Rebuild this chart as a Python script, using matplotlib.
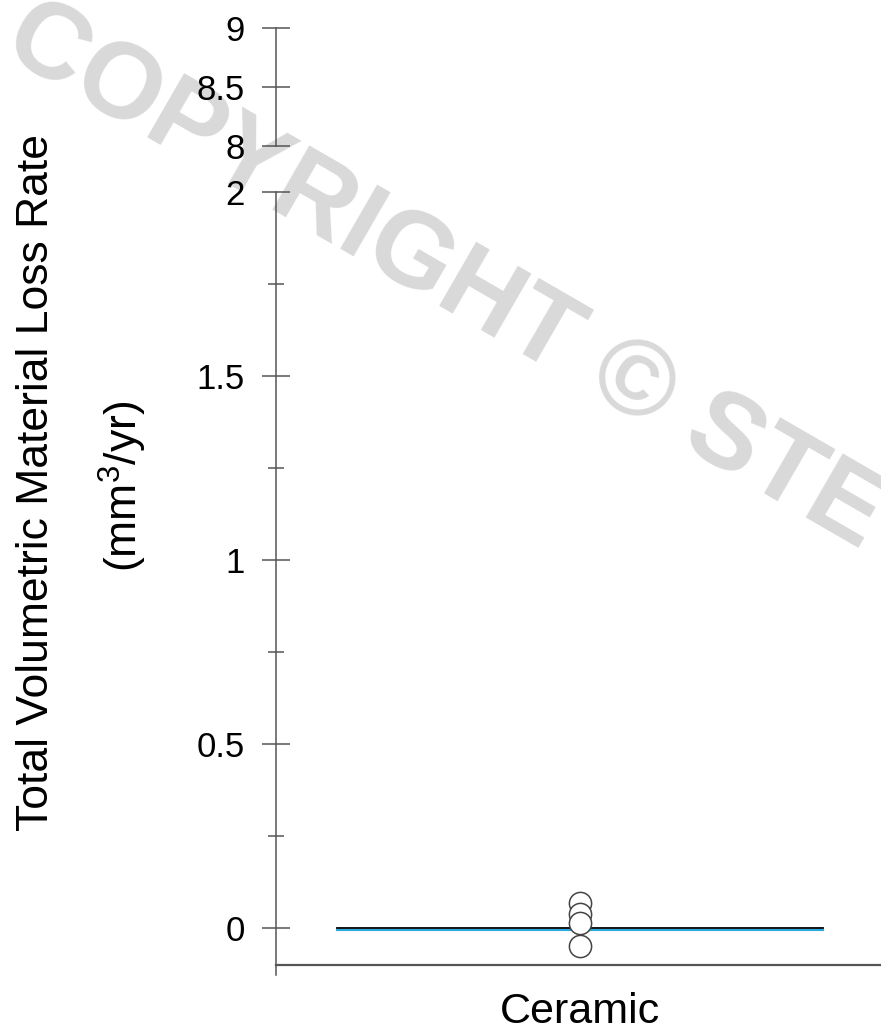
import matplotlib
matplotlib.use("Agg")
import matplotlib.pyplot as plt
import matplotlib.transforms as mtransforms

plt.rcParams['font.family'] = ['Liberation Sans', 'DejaVu Sans']
plt.rcParams['mathtext.fontset'] = 'custom'
plt.rcParams['mathtext.rm'] = 'Liberation Sans'
plt.rcParams['mathtext.default'] = 'regular'

# data
categories = ["Ceramic"]
loss_rates = [0.068, 0.038, 0.014, -0.050]   # mm^3/yr, individual specimens
mean_rate = 0.0
median_rate = 0.0

lower_ticks = [0, 0.5, 1, 1.5, 2]
lower_ticklabels = ["0", "0.5", "1", "1.5", "2"]
lower_minor = [0.25, 0.75, 1.25, 1.75]
upper_ticks = [8, 8.5, 9]
upper_ticklabels = ["8", "8.5", "9"]

axis_grey = "#555555"

fig = plt.figure(figsize=(8.81, 10.30), dpi=100)

# broken y axis: small top panel for 8-9, main panel for 0-2
ax_top = fig.add_axes([0.3133, 0.8583, 0.6867, 0.1146])
ax = fig.add_axes([0.3133, 0.0534, 0.6867, 0.7602])

for a in (ax, ax_top):
    a.patch.set_facecolor('none')
    a.spines['top'].set_visible(False)
    a.spines['right'].set_visible(False)
    a.spines['left'].set_color(axis_grey)
    a.spines['left'].set_linewidth(1.1)
    a.set_xlim(-0.5, 0.495)
    a.tick_params(axis='y', which='major', direction='inout', length=20,
                  width=1.1, color=axis_grey, labelsize=25, pad=12.5)

ax_top.spines['bottom'].set_visible(False)
ax_top.set_ylim(8, 9)
ax_top.set_yticks(upper_ticks)
ax_top.set_yticklabels(upper_ticklabels)
ax_top.set_xticks([])

ax.set_ylim(-0.128, 2)
ax.set_yticks(lower_ticks)
ax.set_yticklabels(lower_ticklabels)
ax.set_yticks(lower_minor, minor=True)
ax.tick_params(axis='y', which='minor', direction='inout', length=11,
               width=1.1, color=axis_grey)
ax.spines['bottom'].set_position(('data', -0.1))
ax.spines['bottom'].set_color(axis_grey)
ax.spines['bottom'].set_linewidth(1.6)

ax.set_xticks(range(len(categories)))
ax.set_xticklabels(categories)
ax.tick_params(axis='x', length=0, labelsize=31, pad=19.5)

# summary lines (median drawn a hair lower so both show)
shift_down = mtransforms.offset_copy(ax.transData, fig=fig, y=-2, units='dots')
ax.plot([-0.4, 0.4], [median_rate, median_rate], color='#29abe2', lw=1.5,
        transform=shift_down, zorder=2)
ax.plot([-0.4, 0.4], [mean_rate, mean_rate], color='black', lw=1.3, zorder=3)

ax.scatter([0] * len(loss_rates), loss_rates, s=16 ** 2, facecolor='white',
           edgecolor='#444444', linewidth=1.1, zorder=4)

fig.text(0.041, 1 - 483 / 1030, "Total Volumetric Material Loss Rate",
         rotation=90, ha='center', va='center', fontsize=32)
fig.text(0.140, 1 - 486 / 1030, "(mm$^3$/yr)",
         rotation=90, ha='center', va='center', fontsize=32)

fig.text(0.0, 1 - 52 / 1030, "COPYRIGHT \u00a9 STE", color='#d9d9d9',
         fontsize=78, fontweight='bold', rotation=-30, rotation_mode='anchor',
         ha='left', va='baseline', zorder=-1)

fig.savefig("out.png", dpi=100)
